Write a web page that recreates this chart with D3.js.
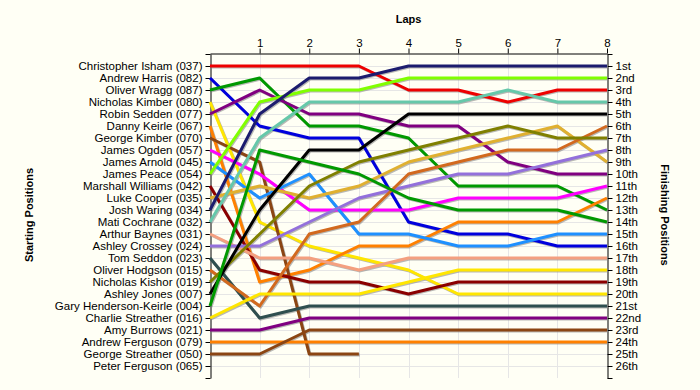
<!DOCTYPE html>
<meta charset="utf-8">
<script src="https://d3js.org/d3.v7.min.js"></script>
<style>
body { margin: 0; background: #fffff5; font-family: "Liberation Sans", Arial, sans-serif; }
svg text { fill: #000; }
.grid line { stroke: #e6e6e6; stroke-width: 1; }
.axis path, .axis line { stroke: #000; }
.axis text { font-size: 11px; font-family: "Liberation Sans", Arial, sans-serif; }
</style>
<div id="chart"></div>
<script>
// Lap chart - positions of each driver lap by lap
var width = 700
var height = 390

var laps = [0, 1, 2, 3, 4, 5, 6, 7, 8]

var drivers = [
  "Christopher Isham (037)", "Andrew Harris (082)", "Oliver Wragg (087)", "Nicholas Kimber (080)",
  "Robin Sedden (077)", "Danny Keirle (067)", "George Kimber (070)", "James Ogden (057)",
  "James Arnold (045)", "James Peace (054)", "Marshall Williams (042)", "Luke Cooper (035)",
  "Josh Waring (034)", "Mati Cochrane (032)", "Arthur Baynes (031)", "Ashley Crossey (024)",
  "Tom Seddon (023)", "Oliver Hodgson (015)", "Nicholas Kishor (019)", "Ashley Jones (007)",
  "Gary Henderson-Keirle (004)", "Charlie Streather (016)", "Amy Burrows (021)", "Andrew Ferguson (079)",
  "George Streather (050)", "Peter Ferguson (065)"
]

// position at lap 0..8 (missing = no data)
var positions = [
  [1, 1, 1, 1, 3, 3, 4, 3, 3],
  [2, 6, 7, 7, 14, 15, 15, 16, 16],
  [3, 2, 6, 6, 7, 11, 11, 11, 13],
  [4, 14, 16, 17, 18, 20, 20, 20, 20],
  [5, 3, 5, 5, 6, 6, 9, 10, 10],
  [6, 19, 18, 16, 16, 14, 14, 14, 12],
  [7, 9, 25, 25],
  [8, 10, 13, 13, 13, 12, 12, 12, 11],
  [9, 12, 10, 15, 15, 16, 16, 15, 15],
  [10, 4, 3, 3, 2, 2, 2, 2, 2],
  [11, 18, 19, 19, 20, 19, 19, 19, 19],
  [12, 11, 12, 11, 9, 8, 7, 6, 9],
  [13, 5, 2, 2, 1, 1, 1, 1, 1],
  [14, 7, 4, 4, 4, 4, 3, 4, 4],
  [15, 17, 17, 18, 17, 17, 17, 17, 17],
  [16, 16, 14, 12, 11, 10, 10, 9, 8],
  [17, 22, 21, 21, 21, 21, 21, 21, 21],
  [18, 21, 15, 14, 10, 9, 8, 8, 6],
  [19, 15, 11, 9, 8, 7, 6, 7, 7],
  [20, 13, 8, 8, 5, 5, 5, 5, 5],
  [21, 8, 9, 10, 12, 13, 13, 13, 14],
  [22, 20, 20, 20, 19, 18, 18, 18, 18],
  [23, 23, 22, 22, 22, 22, 22, 22, 22],
  [24, 24, 24, 24, 24, 24, 24, 24, 24],
  [25, 25, 23, 23, 23, 23, 23, 23, 23],
  []
]

var colors = [
  "#ee0000", "#0000dd", "#009900", "#ffe600", "#800080", "#ff8000", "#8b4513", "#ff00ff",
  "#1e90ff", "#80ff00", "#8b0000", "#e0b030", "#1c1c6e", "#66c8aa", "#f4a080", "#9370db",
  "#2f4f4f", "#d2691e", "#808000", "#000000", "#009900", "#ffe600", "#800080", "#ff8000",
  "#8b4513", "#888888"
]

var finishLabels = ["1st", "2nd", "3rd", "4th", "5th", "6th", "7th", "8th", "9th", "10th",
  "11th", "12th", "13th", "14th", "15th", "16th", "17th", "18th", "19th", "20th",
  "21st", "22nd", "23rd", "24th", "25th", "26th"]

var margin = {left: 210, right: 93, top: 54}

var x = d3.scaleLinear()
  .domain([0, 8])
  .range([margin.left, width - margin.right])

var y = d3.scaleLinear()
  .domain([0, 27])
  .range([margin.top, margin.top + 27 * 12])

var svg = d3.select("#chart")
  .append("svg")
    .attr("width", width)
    .attr("height", height)

var posTicks = d3.range(0, 28)

// gridlines
var grid = svg.append("g").attr("class", "grid")
grid.selectAll(".h")
  .data(d3.range(1, 27))
  .enter().append("line")
    .attr("x1", x(0)).attr("x2", x(8))
    .attr("y1", function(d){ return y(d) + 0.5 })
    .attr("y2", function(d){ return y(d) + 0.5 })
grid.selectAll(".v")
  .data(laps.slice(1, 8))
  .enter().append("line")
    .attr("y1", y(0)).attr("y2", y(27))
    .attr("x1", function(d){ return Math.round(x(d)) + 0.5 })
    .attr("x2", function(d){ return Math.round(x(d)) + 0.5 })

// axes
svg.append("g")
  .attr("class", "axis")
  .attr("transform", "translate(0," + (y(0) - 0.5) + ")")
  .call(d3.axisTop(x).tickValues(laps.slice(1)).tickSize(5).tickSizeOuter(0).tickPadding(2))

svg.append("g")
  .attr("class", "axis")
  .attr("transform", "translate(" + (x(0) + 0.5) + ",0)")
  .call(d3.axisLeft(y).tickValues(posTicks).tickSize(5).tickSizeOuter(0).tickPadding(3)
    .tickFormat(function(d){ return drivers[d - 1] || "" }))

svg.append("g")
  .attr("class", "axis")
  .attr("transform", "translate(" + (x(8) + 0.5) + ",0)")
  .call(d3.axisRight(y).tickValues(posTicks).tickSize(5).tickSizeOuter(0).tickPadding(3)
    .tickFormat(function(d){ return finishLabels[d - 1] || "" }))

svg.selectAll(".axis text").style("font-size", "11.5px")

// titles
svg.append("text")
  .attr("x", x(4)).attr("y", 23)
  .attr("text-anchor", "middle")
  .style("font-weight", "bold").style("font-size", "11px")
  .text("Laps")

svg.append("text")
  .attr("transform", "translate(33," + 215 + ") rotate(-90)")
  .attr("text-anchor", "middle")
  .style("font-weight", "bold").style("font-size", "11px")
  .text("Starting Positions")

svg.append("text")
  .attr("transform", "translate(661," + 215 + ") rotate(90)")
  .attr("text-anchor", "middle")
  .style("font-weight", "bold").style("font-size", "11px")
  .text("Finishing Positions")

// lines
var line = d3.line()
  .x(function(d, i){ return x(laps[i]) })
  .y(function(d){ return y(d) })

var series = positions.map(function(p, i){ return {name: drivers[i], pos: p, color: colors[i]} })
  .filter(function(s){ return s.pos.length > 1 })

// shadow
svg.append("g")
  .selectAll("path")
  .data(series)
  .enter().append("path")
    .attr("d", function(d){ return line(d.pos) })
    .attr("transform", "translate(1,1)")
    .attr("fill", "none")
    .attr("stroke", "#888")
    .attr("stroke-opacity", 0.6)
    .attr("stroke-width", 3)

svg.append("g")
  .selectAll("path")
  .data(series)
  .enter().append("path")
    .attr("d", function(d){ return line(d.pos) })
    .attr("fill", "none")
    .attr("stroke", function(d){ return d.color })
    .attr("stroke-width", 3)
    .attr("stroke-linejoin", "round")
</script>
